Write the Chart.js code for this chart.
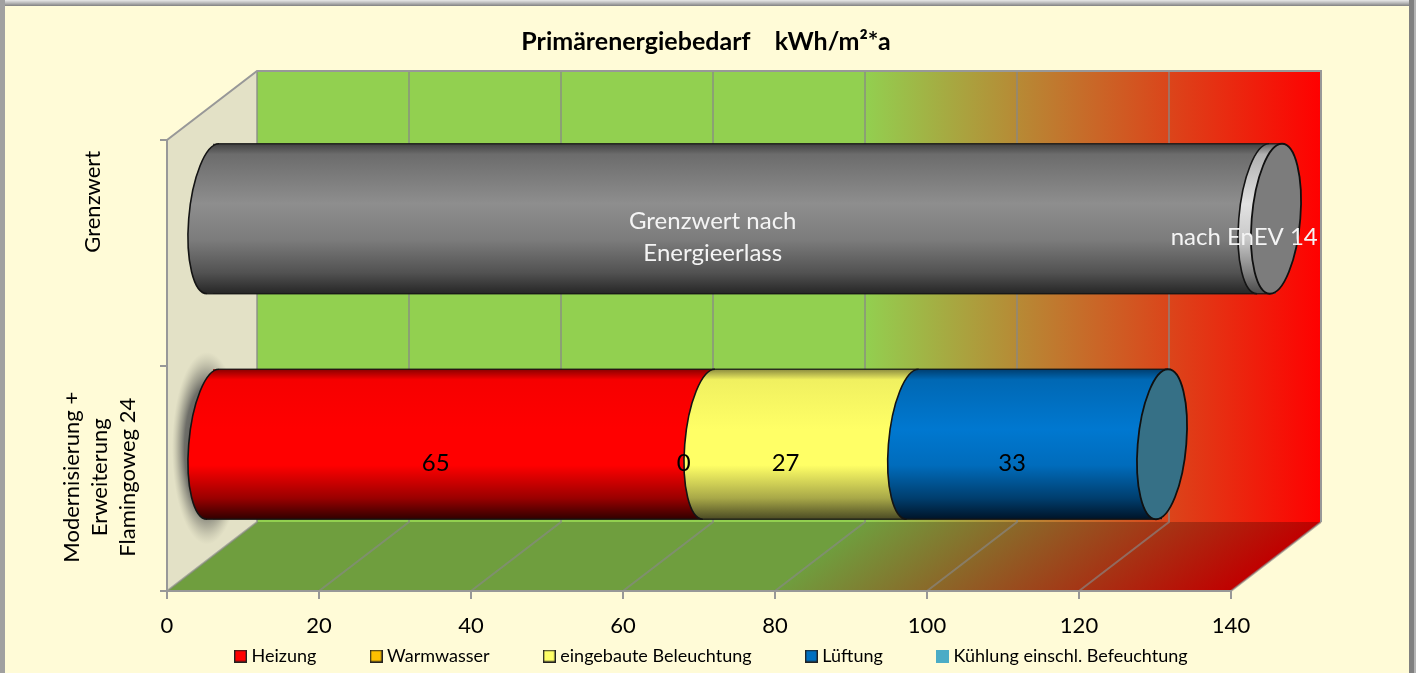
<!DOCTYPE html>
<html><head><meta charset="utf-8">
<style>html,body{margin:0;padding:0;background:#FFFBD7;overflow:hidden}canvas{display:block}</style>
<script src="https://cdn.jsdelivr.net/npm/chart.js@4/dist/chart.umd.min.js"></script>
</head><body><canvas id="c" width="1416" height="673"></canvas>
<script>
const categories=[["Grenzwert"],["Modernisierung +","Erweiterung","Flamingoweg 24"]];
const heizung=[0,65.4];
const warmwasser=[0,0];
const beleuchtung=[0,26.8];
const lueftung=[0,32.8];
const kuehlung=[0,0];
const grenzwert=[138.3,0];
const enev=[1.7,0];
const xTicks=[0,20,40,60,80,100,120,140];
const titleText="Primärenergiebedarf    kWh/m²*a";

const FONT="Lato, Carlito, sans-serif";
const DX=90,DY=69,MX=45,MY=34,A=24.3,S=6;
const ramp=(c)=>[[0,c[0]],[.07,c[1]],[.4,c[2]],[.64,c[3]],[.86,c[4]],[1,c[5]]];
const seriesDefs=[
 {label:"Heizung",data:heizung,swatch:"#FF0000",border:"#222",ramp:ramp(["#8A0000","#F60000","#FF0000","#FF0000","#9A0000","#300000"]),showLabel:[null,"65"]},
 {label:"Warmwasser",data:warmwasser,swatch:"#FFC000",border:"#222",ramp:ramp(["#806000","#F0B400","#FFC000","#FFC000","#A07800","#302400"]),showLabel:[null,"0"]},
 {label:"eingebaute Beleuchtung",data:beleuchtung,swatch:"#FFFF66",border:"#222",ramp:ramp(["#8C8C40","#F0F060","#FFFF66","#FFFF66","#A8A848","#4A4A24"]),showLabel:[null,"27"]},
 {label:"Lüftung",data:lueftung,swatch:"#0070C0",border:"#222",ramp:ramp(["#003E70","#0068B4","#0078D0","#006CBC","#003E6E","#001428"]),showLabel:[null,"33"],cap:"#367086"},
 {label:"Kühlung einschl. Befeuchtung",data:kuehlung,swatch:"#4BACC6",border:null,ramp:ramp(["#2E6A7A","#3C8CA0","#4BACC6","#4BACC6","#30707F","#102830"]),showLabel:[null,null]},
 {label:"Grenzwert nach Energieerlass",data:grenzwert,swatch:"#808080",hidden:true,ramp:ramp(["#404040","#6C6C6C","#8E8E8E","#7C7C7C","#525252","#262626"]),showLabel:[["Grenzwert nach","Energieerlass"],null]},
 {label:"nach EnEV 14",data:enev,swatch:"#CCCCCC",hidden:true,ramp:ramp(["#606060","#B0B0B0","#E2E2E2","#C8C8C8","#808080","#4A4A4A"]),showLabel:[["nach EnEV 14"],null],cap:"#7C7C7C"}
];
function barGradient(ctx,yc,h,stops){
 const g=ctx.createLinearGradient(0,yc-h/2,0,yc+h/2);
 stops.forEach(s=>g.addColorStop(s[0],s[1]));
 return g;
}
function swatch(def){
 const c=document.createElement('canvas');c.width=13;c.height=13;
 const x=c.getContext('2d');x.fillStyle=def.swatch;x.fillRect(0,0,13,13);
 if(def.border){x.strokeStyle=def.border;x.lineWidth=1.4;x.strokeRect(.7,.7,11.6,11.6);}
 return c;
}
function ell(ctx,cx,cy,R,a0,a1){
 ctx.save();ctx.translate(cx,cy);ctx.transform(1,0,-S/R,1,0,0);ctx.ellipse(0,0,A,R,0,a0,a1);ctx.restore();
}
const frame3d={
 id:'frame3d',
 beforeDraw(chart){
  const c=chart.ctx,W=chart.width,H=chart.height,x=chart.scales.x,y=chart.scales.y;
  const L=x.left,R=x.right,T=y.top,B=y.bottom;
  c.save();
  c.fillStyle="#FFFBD7";c.fillRect(0,0,W,H);
  let g=c.createLinearGradient(0,0,0,6);g.addColorStop(0,"#E8E8E8");g.addColorStop(.5,"#B8B8B8");g.addColorStop(1,"#808080");
  c.fillStyle=g;c.fillRect(0,0,W,6);
  c.fillStyle="#A0A0A0";c.fillRect(0,0,5,H);
  c.fillStyle="#808080";c.fillRect(W-7,0,7,H);
  c.fillStyle="#B4B4B4";c.fillRect(W-2,0,2,H);
  // back wall
  const stops=[[0,"#92D050"],[.57,"#92D050"],[1,"#FF0000"]];
  g=c.createLinearGradient(L+DX,0,R+DX,0);stops.forEach(s=>g.addColorStop(s[0],s[1]));
  c.fillStyle=g;c.fillRect(L+DX,T-DY,R-L,B-T);
  // side wall
  c.fillStyle="#E3E1C6";
  const sidePath=()=>{c.beginPath();c.moveTo(L,T);c.lineTo(L+DX,T-DY);c.lineTo(L+DX,B-DY);c.lineTo(L,B);c.closePath();};
  sidePath();c.fill();
  // soft shadow behind the lower cylinder on the side wall
  c.save();sidePath();c.clip();
  const sy=y.getPixelForValue(1)-MY+4;
  c.translate(L+40,sy);c.scale(1,2.75);
  g=c.createRadialGradient(0,0,4,0,0,35);g.addColorStop(0,"rgba(70,70,70,.95)");g.addColorStop(.6,"rgba(90,90,88,.85)");g.addColorStop(.8,"rgba(120,120,110,.45)");g.addColorStop(1,"rgba(160,160,140,0)");
  c.fillStyle=g;c.beginPath();c.arc(0,0,35,0,Math.PI*2);c.fill();
  c.restore();
  // floor
  c.save();
  c.translate(0,B);c.transform(1,0,-DX/DY,1,0,0);
  g=c.createLinearGradient(L,0,R,0);
  [[0,"#6F9E3E"],[.57,"#6F9E3E"],[1,"#C00000"]].forEach(s=>g.addColorStop(s[0],s[1]));
  c.fillStyle=g;c.fillRect(L,-DY,R-L,DY);
  c.restore();
  // grid lines on wall and floor
  c.lineWidth=2;c.strokeStyle="rgba(135,135,135,.65)";
  xTicks.forEach((v,i)=>{
   const px=x.getPixelForValue(v);
   c.beginPath();
   c.moveTo(px,B);c.lineTo(px+DX,B-DY);
   if(i<xTicks.length-1){c.lineTo(px+DX,T-DY);}
   c.stroke();
  });
  c.strokeStyle="#989898";c.lineWidth=2;
  c.beginPath();c.moveTo(L,T);c.lineTo(L+DX,T-DY);c.lineTo(R+DX,T-DY);c.lineTo(R+DX,B-DY);c.stroke();
  c.restore();
 },
 afterLayout(chart){
  chart.titleBlock.left=0;chart.titleBlock.right=1412;
  const lg=chart.legend;
  lg.left=180.8;lg.right=chart.width;lg.top=589.3;lg.bottom=chart.height;
 },
 beforeDatasetsDraw(chart){chart.ctx.save();chart.ctx.translate(MX,-MY);},
 afterDatasetsDraw(chart){
  const c=chart.ctx;
  c.restore();
  const n=categories.length;
  c.save();
  for(let i=0;i<n;i++){
   let last=null;
   chart.data.datasets.forEach((ds,di)=>{
    const el=chart.getDatasetMeta(di).data[i];
    const def=seriesDefs[di];
    if(ds.data[i]===0)return;
    const x0=el.base+MX,x1=el.x+MX,yc=el.y-MY,R=el.height/2;
    c.beginPath();ell(c,x0,yc,R,Math.PI/2,Math.PI*1.5);
    c.lineTo(x1+S,yc-R);c.lineTo(x1-S,yc+R);c.closePath();
    c.fillStyle=barGradient(c,yc,el.height,def.ramp);c.fill();
    c.strokeStyle="#141414";c.lineWidth=1.6;
    c.beginPath();ell(c,x0,yc,R,Math.PI/2,Math.PI*1.5);c.stroke();
    c.strokeStyle="rgba(20,20,20,.8)";c.lineWidth=1.4;
    c.beginPath();c.moveTo(x0+S,yc-R);c.lineTo(x1+S,yc-R);c.moveTo(x0-S,yc+R);c.lineTo(x1-S,yc+R);c.stroke();
    last={x1,yc,R,def};
   });
   if(last){
    c.beginPath();ell(c,last.x1,last.yc,last.R,0,Math.PI*2);
    c.fillStyle=last.def.cap||"#808080";c.fill();
    c.strokeStyle="#101010";c.lineWidth=1.8;c.stroke();
   }
  }
  // data labels
  c.textAlign="center";c.textBaseline="middle";
  c.font="24px "+FONT;
  chart.data.datasets.forEach((ds,di)=>{
   const def=seriesDefs[di];
   chart.getDatasetMeta(di).data.forEach((el,i)=>{
    const t=def.showLabel[i];if(t==null)return;
    const lx=(el.base+el.x)/2+MX-A-1,ly=el.y-MY+19;
    c.fillStyle=def.hidden?"#F4F4F4":"#000";
    const lines=Array.isArray(t)?t:[t];
    lines.forEach((ln,k)=>c.fillText(ln,lx,ly+(k-(lines.length-1)/2)*32));
   });
  });
  c.restore();
 },
 afterDraw(chart){
  // rotated category labels
  const c=chart.ctx,y=chart.scales.y;
  c.save();c.font="22px "+FONT;c.fillStyle="#000";c.textAlign="center";c.textBaseline="middle";
  const cols=[[93],[72,100,128]];
  const yOff=[-51,-1];
  categories.forEach((lines,i)=>{
   lines.forEach((ln,k)=>{
    c.save();c.translate(cols[i][k],y.getPixelForTick(i)+yOff[i]);c.rotate(-Math.PI/2);c.fillText(ln,0,0);c.restore();
   });
  });
  c.restore();
 }
};
Chart.defaults.font.family=FONT;
new Chart(document.getElementById('c'),{
 type:'bar',
 plugins:[frame3d],
 data:{
  labels:categories,
  datasets:seriesDefs.map(d=>({
   label:d.label,data:d.data,stack:'s',clip:false,borderWidth:0,
   categoryPercentage:.665,barPercentage:1,
   backgroundColor:(ctx)=>{
    if(!ctx.chart.scales.y||ctx.dataIndex==null)return d.swatch;
    const yc=ctx.chart.scales.y.getPixelForValue(ctx.dataIndex);
    return barGradient(ctx.chart.ctx,yc,150,d.ramp);
   }
  }))
 },
 options:{
  indexAxis:'y',responsive:false,animation:false,devicePixelRatio:1,
  layout:{padding:{left:0,right:185,top:0,bottom:0}},
  scales:{
   x:{type:'linear',min:0,max:140,stacked:true,
    afterBuildTicks(s){s.ticks=xTicks.map(v=>({value:v}));},
    afterFit(s){s.height=50;},
    grid:{drawOnChartArea:false,drawTicks:true,tickLength:8,color:"#989898",lineWidth:2},
    border:{display:true,color:"#989898",width:2},
    ticks:{color:"#000",font:{size:22,family:FONT},padding:14,maxRotation:0}
   },
   y:{type:'category',stacked:true,
    afterFit(s){s.width=167;},
    grid:{drawOnChartArea:false,drawTicks:true,tickLength:7,color:"#989898",lineWidth:2},
    border:{display:true,color:"#989898",width:2},
    ticks:{display:false}
   }
  },
  plugins:{
   tooltip:{enabled:false},
   title:{display:true,text:titleText,color:"#000",font:{size:25,weight:'bold',family:FONT},padding:{top:27,bottom:83}},
   legend:{display:true,position:'bottom',align:'start',maxHeight:32,
    labels:{usePointStyle:true,pointStyleWidth:4,boxHeight:13,padding:57.7,color:"#000",font:{size:18,family:FONT},
     generateLabels(){return seriesDefs.filter(d=>!d.hidden).map(d=>({text:d.label,pointStyle:swatch(d),fontColor:"#000",lineWidth:0,strokeStyle:'transparent',fillStyle:d.swatch}));}
    }
   }
  }
 }
});
</script></body></html>
